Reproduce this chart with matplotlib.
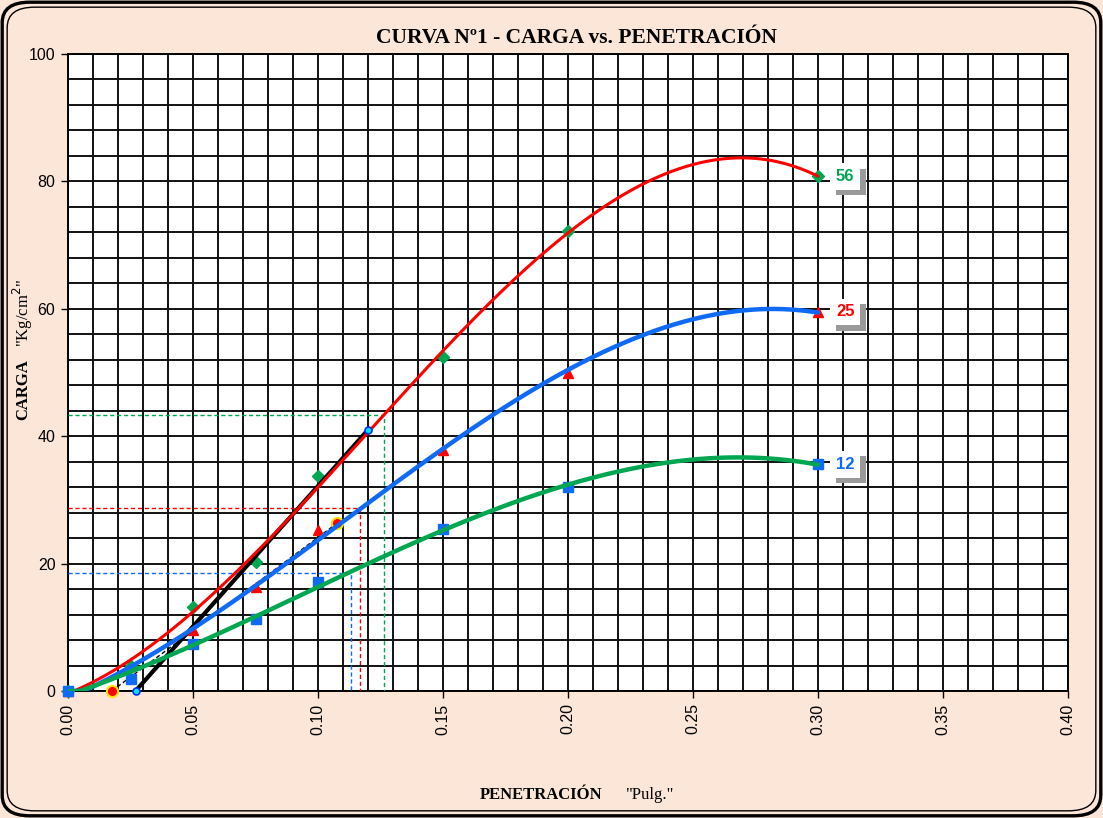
import matplotlib.pyplot as plt
import numpy as np
from matplotlib.patches import FancyBboxPatch
from matplotlib.transforms import offset_copy
import matplotlib.patheffects as pe

# penetracion (pulg) y carga (kg/cm2) para cada energia de compactacion
pen = [0.0, 0.025, 0.05, 0.075, 0.10, 0.15, 0.20, 0.30]
carga_56 = [0.0, 4.0, 13.2, 20.3, 33.8, 52.4, 72.2, 80.8]
carga_25 = [0.0, 2.0, 9.6, 16.4, 25.2, 37.8, 50.0, 59.5]
carga_12 = [0.0, 1.9, 7.4, 11.3, 17.1, 25.4, 32.0, 35.6]
golpes = ['56', '25', '12']

# correccion de la curva (recta tangente) y lecturas corregidas
tang_x = [0.027, 0.120]
tang_y = [0.0, 41.0]
aux_x = [0.0175, 0.1075]
aux_y = [0.0, 26.3]
lect_x = [0.1264, 0.1168, 0.1131]
lect_y = [43.3, 28.8, 18.5]

peach = '#FCE6D8'
c_red = '#FF0000'
c_blue = '#0F6AF5'
c_green = '#00A650'

fig = plt.figure(figsize=(11.03, 8.18), dpi=100, facecolor=peach)
ax = fig.add_axes([68/1103, 1-691/818, 1000/1103, 637/818])
ax.set_facecolor('white')

# marco doble con esquinas redondeadas
for pad, lw in [(0.002, 2.4), (0.0065, 1.0)]:
    fig.patches.append(FancyBboxPatch((pad, pad * 1103/818), 1-2*pad, 1-2*pad*1103/818,
                                      boxstyle='round,pad=0,rounding_size=0.025',
                                      transform=fig.transFigure, fill=False,
                                      edgecolor='black', linewidth=lw, zorder=0))

ax.set_xlim(0, 0.40)
ax.set_ylim(0, 100)
ax.set_xticks(np.arange(0, 0.401, 0.05))
ax.set_xticklabels(['%.2f' % v for v in np.arange(0, 0.401, 0.05)], rotation=90,
                   family='Liberation Sans', fontsize=11.5)
ax.set_yticks(np.arange(0, 101, 20))
ax.set_yticklabels([str(v) for v in range(0, 101, 20)], family='Liberation Sans', fontsize=11.5)
ax.set_xticks(np.arange(0, 0.401, 0.01), minor=True)
ax.set_yticks(np.arange(0, 101, 4), minor=True)
ax.tick_params(which='minor', length=0)
ax.tick_params(which='major', length=5, width=1, direction='out', pad=4)
ax.grid(True, which='both', color='#111111', linewidth=1.4)
ax.set_axisbelow(True)
for s in ax.spines.values():
    s.set_linewidth(1.4)

pen_a = np.array(pen)
xs = np.linspace(0, 0.30, 300)
series = [(carga_56, c_green, 'D', c_red, 2.2, c_green),
          (carga_25, c_red, '^', c_blue, 3.2, c_red),
          (carga_12, c_blue, 's', c_green, 3.2, c_blue)]

# lecturas corregidas (lineas punteadas)
for lx, ly, col in zip(lect_x, lect_y, [c_green, c_red, c_blue]):
    ax.plot([0, lx, lx], [ly, ly, 0], color=col, linestyle=(0, (3, 2)), linewidth=1.0, zorder=3)

ax.plot(aux_x, aux_y, color='black', linestyle=(0, (3, 2)), linewidth=1.0, zorder=3)
ax.plot(aux_x, aux_y, linestyle='none', marker='o', markersize=8, markerfacecolor='#FF0000',
        markeredgecolor='#FFE000', markeredgewidth=1.5, zorder=4.6, clip_on=False)

for vals, mcol, mk, lcol, lw, tcol in series:
    ax.plot(pen, vals, linestyle='none', marker=mk, color=mcol, markersize=6.5, zorder=4,
            clip_on=False)
    coef = np.polyfit(pen_a, np.array(vals), 3)
    ys = np.polyval(coef, xs)
    ax.plot(xs, np.clip(ys, 0, None), color=lcol, linewidth=lw, zorder=5, solid_capstyle='round')

ax.plot(tang_x, tang_y, color='black', linewidth=3.0, zorder=4.5)
ax.plot(tang_x, tang_y, linestyle='none', marker='o', markersize=5, markerfacecolor='#00E0FF',
        markeredgecolor='#0030FF', markeredgewidth=1.2, zorder=6, clip_on=False)

# etiquetas con sombra
for (vals, mcol, mk, lcol, lw, tcol), g in zip(series, golpes):
    tr = offset_copy(ax.transData, fig=fig, x=18, y=0, units='dots')
    t = ax.text(pen[-1], vals[-1], g, transform=tr, ha='left', va='center', fontsize=12,
                fontweight='bold', family='Liberation Sans', color=tcol, zorder=8,
                bbox=dict(boxstyle='square,pad=0.35', facecolor='white', edgecolor='none'))
    t.get_bbox_patch().set_path_effects([
        pe.SimplePatchShadow(offset=(4, -4), shadow_rgbFace='#9A9A9A', alpha=1.0),
        pe.Normal()])

fig.text(576/1103, 1-38/818, 'CURVA Nº1 - CARGA vs. PENETRACIÓN', ha='center', va='center',
         family='Liberation Serif', fontweight='bold', fontsize=15.5)
fig.text(480/1103, 1-795/818, 'PENETRACIÓN', ha='left', va='center',
         family='Liberation Serif', fontweight='bold', fontsize=12)
fig.text(626/1103, 1-795/818, '"Pulg."', ha='left', va='center',
         family='Liberation Serif', fontsize=12)
fig.text(23/1103, 1-390/818, 'CARGA', ha='center', va='center', rotation=90,
         family='Liberation Serif', fontweight='bold', fontsize=12)
fig.text(23/1103, 1-313/818, '"Kg/cm$^2$"', ha='center', va='center', rotation=90,
         family='Liberation Serif', fontsize=12)

fig.savefig('out.png', dpi=100, facecolor=peach)
